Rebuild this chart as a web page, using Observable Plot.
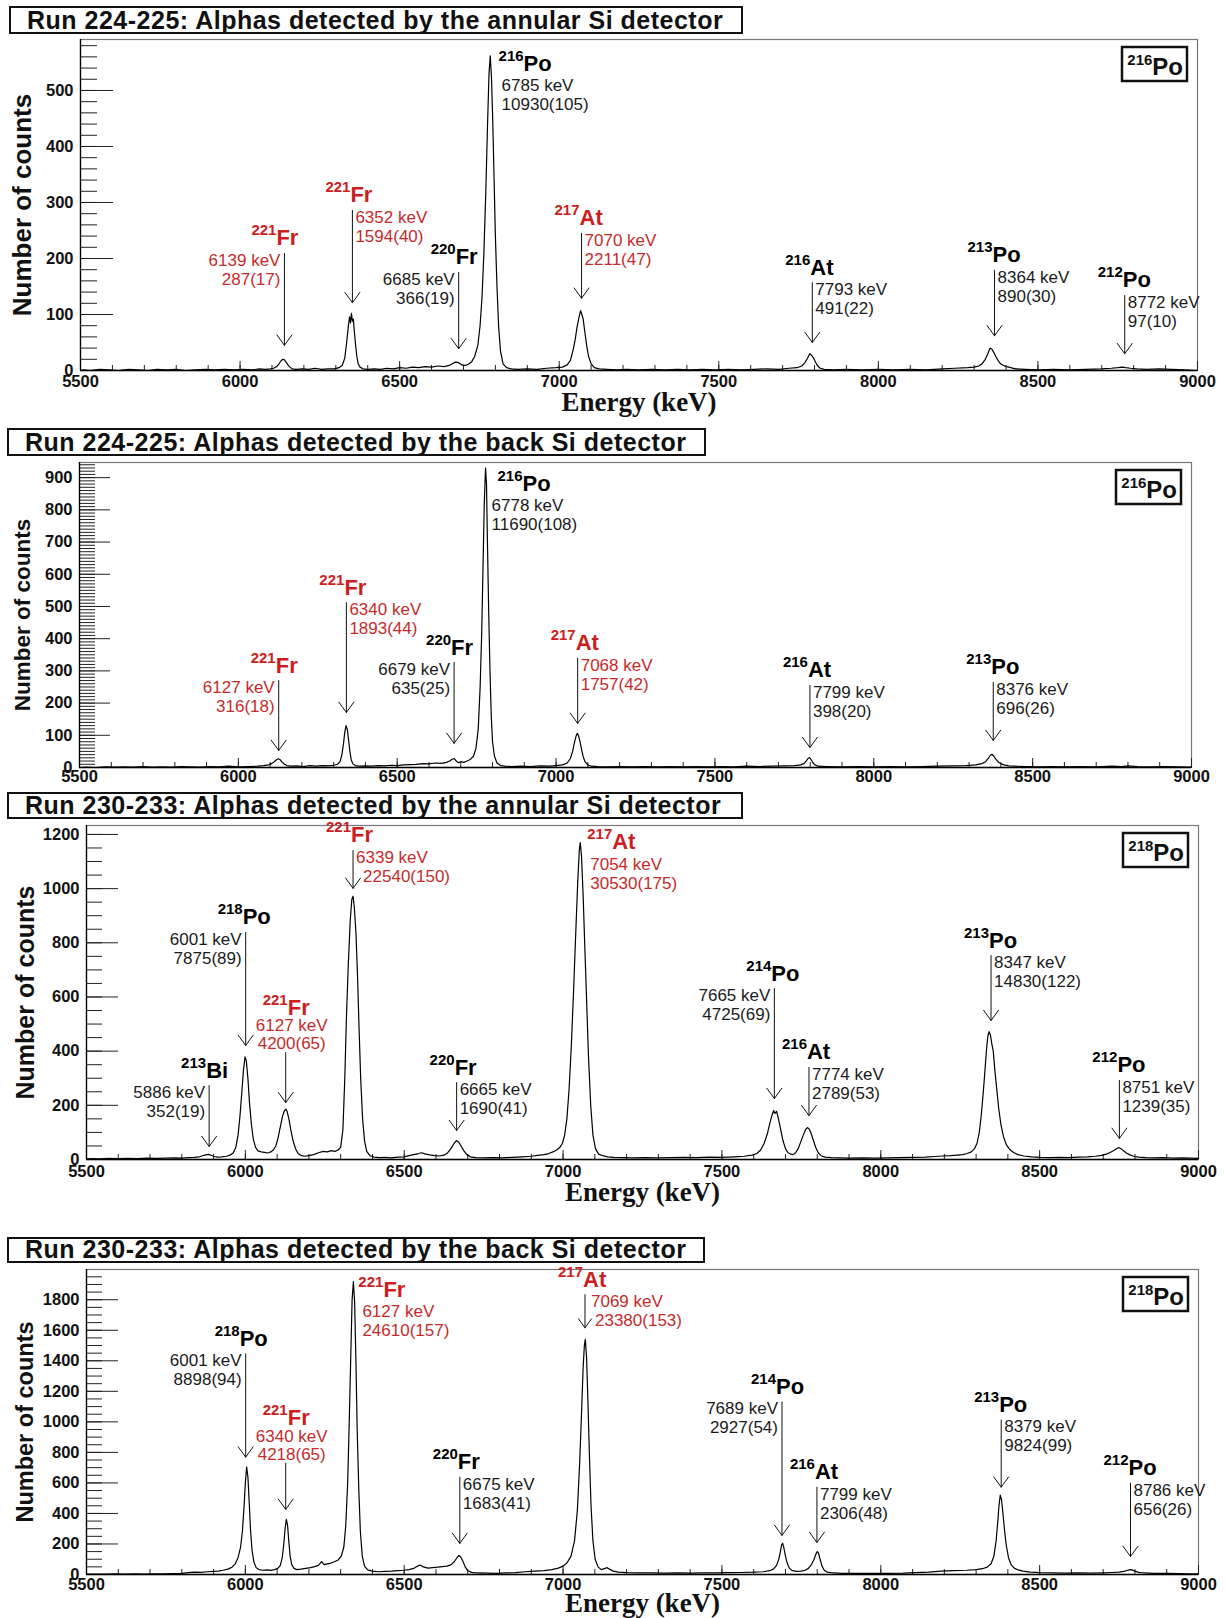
<!DOCTYPE html>
<html>
<head>
<meta charset="utf-8">
<script src="https://cdn.jsdelivr.net/npm/d3@7"></script>
<script src="https://cdn.jsdelivr.net/npm/@observablehq/plot@0.6"></script>
<style>
  body { margin: 0; background: #fff; }
  #page { position: relative; width: 1225px; height: 1618px; overflow: hidden; }
  #page svg { position: absolute; left: 0; }
</style>
</head>
<body>
<div id="page"></div>
<script>
// ---------- Spectra: [energy (keV), counts] ----------
const spectrumAnnular224 = [
  [5500,0],[5510,1],[5530,0],[5560,2],[5590,1],[5620,0],[5650,2],[5680,1],[5710,0],[5740,2],[5770,1],[5800,2],[5830,0],[5860,1],[5890,2],[5920,1],[5950,2],[5980,1],[6010,2],[6040,1],[6060,3],[6080,2],[6095,3],[6105,4],[6115,7],[6122,12],[6128,17],[6134,20],[6139,19],[6144,15],[6150,10],[6156,6],[6163,3],[6175,2],[6195,3],[6215,2],[6235,4],[6255,2],[6275,3],[6295,3],[6310,5],[6320,9],[6328,22],[6334,50],[6339,78],[6343,96],[6346,85],[6349,102],[6352,88],[6355,92],[6358,70],[6362,45],[6366,25],[6370,12],[6376,6],[6385,3],[6400,2],[6420,3],[6440,2],[6460,4],[6480,3],[6500,5],[6520,4],[6540,6],[6560,5],[6580,7],[6600,6],[6620,8],[6640,7],[6655,9],[6665,12],[6675,15],[6685,14],[6695,10],[6705,9],[6715,11],[6725,15],[6735,25],[6745,45],[6752,80],[6758,130],[6764,210],[6770,320],[6775,430],[6780,530],[6784,562],[6788,520],[6792,440],[6796,340],[6800,240],[6805,150],[6810,80],[6816,35],[6824,12],[6835,5],[6850,3],[6870,2],[6900,3],[6930,2],[6960,4],[6990,5],[7010,6],[7025,10],[7035,18],[7043,35],[7050,55],[7056,78],[7062,95],[7067,107],[7071,100],[7075,92],[7080,70],[7086,45],[7092,25],[7100,12],[7110,5],[7125,3],[7150,2],[7180,1],[7210,2],[7250,1],[7290,2],[7330,1],[7370,2],[7410,1],[7450,2],[7490,1],[7530,2],[7570,1],[7610,2],[7650,3],[7690,2],[7720,4],[7745,5],[7760,8],[7770,14],[7778,22],[7785,30],[7791,27],[7797,22],[7803,15],[7810,8],[7818,4],[7830,2],[7860,1],[7900,2],[7950,1],[8000,2],[8050,1],[8100,2],[8150,1],[8200,3],[8240,4],[8280,5],[8300,6],[8315,8],[8325,12],[8335,20],[8343,30],[8350,40],[8356,38],[8362,32],[8368,25],[8375,18],[8383,12],[8392,9],[8402,7],[8415,5],[8430,3],[8460,2],[8500,1],[8550,2],[8600,1],[8650,2],[8700,3],[8730,4],[8750,5],[8765,6],[8775,5],[8790,4],[8810,3],[8840,2],[8880,3],[8920,2],[8960,1],[9000,0]
];

const spectrumBack224 = [
  [5500,0],[5520,1],[5550,0],[5580,2],[5610,1],[5640,2],[5670,1],[5700,3],[5730,1],[5760,2],[5790,1],[5820,3],[5850,2],[5880,1],[5910,3],[5940,2],[5970,4],[6000,2],[6030,3],[6060,4],[6080,6],[6095,8],[6105,12],[6113,18],[6120,24],[6126,27],[6132,24],[6138,16],[6145,10],[6153,6],[6165,4],[6185,5],[6205,3],[6225,6],[6245,4],[6265,6],[6285,5],[6300,7],[6312,10],[6320,18],[6326,40],[6331,75],[6335,110],[6339,130],[6343,118],[6347,85],[6351,50],[6355,25],[6360,12],[6368,6],[6380,4],[6400,5],[6420,4],[6440,6],[6460,5],[6480,7],[6500,6],[6520,8],[6540,9],[6560,10],[6580,12],[6600,11],[6620,14],[6640,13],[6655,16],[6665,20],[6672,25],[6679,28],[6686,20],[6693,15],[6700,18],[6710,16],[6720,20],[6730,25],[6740,35],[6748,60],[6755,120],[6761,250],[6766,420],[6770,620],[6774,820],[6778,930],[6781,880],[6784,700],[6788,480],[6792,300],[6796,160],[6800,80],[6806,35],[6814,14],[6825,6],[6840,4],[6860,3],[6890,4],[6920,3],[6950,5],[6980,4],[7000,6],[7020,8],[7035,14],[7045,28],[7052,50],[7058,78],[7063,98],[7067,106],[7071,98],[7075,82],[7080,58],[7085,35],[7091,18],[7100,8],[7112,4],[7130,3],[7160,2],[7200,3],[7240,2],[7280,3],[7320,2],[7360,3],[7400,2],[7440,3],[7480,2],[7520,3],[7560,2],[7600,4],[7640,3],[7680,4],[7720,5],[7750,6],[7770,8],[7780,12],[7787,20],[7793,28],[7798,31],[7803,24],[7809,14],[7815,8],[7825,4],[7850,3],[7900,2],[7950,3],[8000,2],[8050,3],[8100,2],[8150,3],[8200,4],[8250,5],[8290,6],[8320,8],[8340,12],[8352,18],[8360,28],[8367,38],[8372,41],[8378,35],[8384,26],[8391,18],[8399,12],[8410,8],[8425,5],[8445,4],[8480,3],[8520,2],[8560,3],[8600,2],[8650,3],[8700,2],[8750,4],[8780,3],[8800,5],[8830,3],[8870,2],[8920,3],[8960,2],[9000,1]
];

const spectrumAnnular230 = [
  [5500,2],[5520,3],[5540,2],[5570,4],[5600,3],[5630,4],[5660,3],[5690,5],[5720,4],[5750,5],[5780,6],[5800,5],[5820,7],[5840,8],[5855,10],[5865,14],[5875,17],[5884,19],[5893,15],[5902,11],[5912,9],[5925,10],[5940,12],[5952,16],[5962,25],[5970,45],[5977,90],[5983,160],[5989,250],[5994,330],[5999,379],[6003,365],[6008,300],[6013,210],[6019,130],[6025,75],[6032,45],[6040,32],[6050,28],[6060,26],[6070,24],[6080,28],[6088,35],[6096,50],[6103,80],[6110,120],[6117,160],[6123,180],[6128,186],[6132,175],[6137,150],[6143,110],[6150,70],[6158,40],[6166,22],[6175,15],[6185,12],[6200,14],[6215,18],[6230,25],[6245,30],[6258,28],[6270,33],[6282,30],[6292,35],[6300,45],[6307,110],[6313,300],[6318,520],[6324,720],[6330,880],[6335,960],[6339,972],[6343,930],[6348,840],[6353,680],[6358,480],[6363,300],[6369,150],[6375,70],[6382,30],[6392,14],[6405,9],[6420,7],[6440,8],[6460,6],[6480,9],[6500,10],[6515,14],[6530,18],[6545,22],[6555,25],[6565,21],[6580,17],[6595,14],[6610,13],[6625,16],[6637,25],[6647,40],[6656,58],[6664,70],[6671,65],[6679,50],[6688,32],[6697,18],[6708,10],[6725,7],[6750,6],[6780,7],[6810,6],[6840,8],[6870,10],[6900,12],[6920,15],[6940,18],[6955,22],[6968,28],[6980,35],[6990,45],[6998,60],[7005,90],[7012,150],[7019,260],[7026,420],[7033,620],[7040,840],[7046,1020],[7051,1140],[7054,1170],[7058,1120],[7063,980],[7068,800],[7074,590],[7080,380],[7087,200],[7094,90],[7102,40],[7112,20],[7125,14],[7140,10],[7160,8],[7190,7],[7220,6],[7260,7],[7300,6],[7340,7],[7380,8],[7420,7],[7460,9],[7500,8],[7540,10],[7570,12],[7595,16],[7610,22],[7622,35],[7633,60],[7643,95],[7651,135],[7658,165],[7663,181],[7667,170],[7672,178],[7678,150],[7685,110],[7692,70],[7700,40],[7708,25],[7716,20],[7724,18],[7732,25],[7740,40],[7748,65],[7756,90],[7763,110],[7769,118],[7775,112],[7781,95],[7788,70],[7795,45],[7803,25],[7812,14],[7825,9],[7845,7],[7870,6],[7900,5],[7940,6],[7980,5],[8020,6],[8060,7],[8100,8],[8140,9],[8170,11],[8195,13],[8220,14],[8240,16],[8258,18],[8272,22],[8285,28],[8295,40],[8303,60],[8310,100],[8316,160],[8322,240],[8328,330],[8333,410],[8337,455],[8341,472],[8345,460],[8349,430],[8354,400],[8359,330],[8365,260],[8371,190],[8378,130],[8386,85],[8395,55],[8405,38],[8418,26],[8432,18],[8450,13],[8475,10],[8500,8],[8530,7],[8560,8],[8590,7],[8620,9],[8650,10],[8675,12],[8695,15],[8710,20],[8722,26],[8733,33],[8742,40],[8749,44],[8756,40],[8764,32],[8773,24],[8784,17],[8796,12],[8812,9],[8835,7],[8860,6],[8890,7],[8920,5],[8950,6],[8975,5],[9000,4]
];

const spectrumBack230 = [
  [5500,2],[5530,3],[5560,2],[5590,4],[5620,3],[5650,4],[5680,3],[5710,5],[5740,4],[5770,6],[5800,8],[5820,12],[5840,15],[5860,14],[5880,18],[5900,20],[5915,22],[5930,28],[5945,35],[5958,48],[5968,70],[5977,110],[5985,180],[5991,290],[5996,450],[6000,600],[6004,703],[6008,640],[6012,480],[6016,300],[6021,160],[6027,80],[6034,45],[6043,32],[6055,28],[6068,30],[6080,27],[6092,32],[6102,40],[6110,60],[6116,110],[6121,200],[6125,300],[6129,361],[6133,320],[6137,210],[6141,120],[6146,65],[6153,40],[6162,32],[6175,35],[6190,40],[6205,45],[6218,52],[6230,60],[6240,85],[6248,65],[6258,70],[6270,75],[6282,85],[6292,95],[6302,120],[6310,180],[6316,320],[6322,600],[6327,1000],[6332,1450],[6336,1800],[6340,1918],[6344,1780],[6348,1400],[6352,950],[6357,560],[6362,280],[6368,120],[6375,55],[6385,30],[6400,22],[6420,18],[6440,20],[6460,22],[6480,25],[6500,28],[6515,32],[6530,40],[6542,55],[6550,62],[6560,50],[6575,42],[6590,45],[6605,48],[6620,52],[6635,55],[6648,65],[6658,85],[6666,110],[6672,125],[6678,115],[6685,85],[6692,50],[6700,25],[6712,14],[6730,10],[6760,9],[6790,8],[6820,10],[6850,12],[6880,18],[6910,22],[6940,26],[6965,32],[6985,42],[7000,55],[7012,75],[7025,120],[7036,220],[7045,420],[7052,720],[7058,1050],[7063,1350],[7067,1500],[7070,1540],[7074,1420],[7078,1150],[7083,780],[7088,450],[7094,220],[7101,100],[7110,50],[7120,32],[7130,38],[7138,45],[7146,35],[7158,22],[7175,15],[7200,12],[7240,10],[7280,11],[7320,9],[7360,10],[7400,9],[7440,11],[7480,10],[7520,12],[7560,13],[7600,15],[7630,18],[7650,25],[7662,35],[7672,60],[7679,100],[7684,150],[7688,195],[7691,205],[7695,175],[7700,120],[7706,70],[7713,40],[7722,25],[7735,20],[7750,22],[7762,28],[7772,40],[7782,65],[7790,100],[7796,135],[7800,150],[7804,140],[7809,100],[7815,55],[7822,28],[7832,15],[7850,10],[7880,8],[7910,7],[7950,8],[7990,7],[8030,8],[8070,9],[8110,12],[8150,16],[8190,22],[8230,25],[8270,28],[8300,32],[8320,38],[8335,48],[8347,70],[8356,120],[8363,220],[8368,340],[8372,450],[8376,520],[8380,490],[8384,410],[8389,300],[8395,190],[8402,110],[8410,65],[8420,42],[8432,30],[8448,22],[8470,16],[8500,12],[8540,10],[8580,9],[8620,10],[8660,9],[8700,11],[8730,13],[8750,15],[8765,20],[8775,26],[8782,30],[8788,32],[8794,27],[8802,20],[8812,14],[8830,10],[8860,8],[8900,7],[8940,6],[8970,5],[9000,4]
];

// ---------- Peak labels ----------
// mass/el: isotope; kev/n: fitted energy and peak area; e: energy the arrow points at;
// top/tip: arrow start and end in counts; side: where the text sits relative to the arrow
const labelsAnnular224 = [
  {mass: "221", el: "Fr", kev: "6139 keV", n: "287(17)",    e: 6139, red: true,  side: "left",  top: 209, tip: 45, jx: -8},
  {mass: "221", el: "Fr", kev: "6352 keV", n: "1594(40)",   e: 6352, red: true,  side: "right", top: 286, tip: 121},
  {mass: "220", el: "Fr", kev: "6685 keV", n: "366(19)",    e: 6685, red: false, side: "left",  top: 175, tip: 39},
  {mass: "216", el: "Po", kev: "6785 keV", n: "10930(105)", e: 6785, red: false, side: "peak",  top: 521, dx: 11, jx: 33},
  {mass: "217", el: "At", kev: "7070 keV", n: "2211(47)",   e: 7070, red: true,  side: "right", top: 245, tip: 129},
  {mass: "216", el: "At", kev: "7793 keV", n: "491(22)",    e: 7793, red: false, side: "right", top: 157, tip: 50},
  {mass: "213", el: "Po", kev: "8364 keV", n: "890(30)",    e: 8364, red: false, side: "right", top: 179, tip: 62},
  {mass: "212", el: "Po", kev: "8772 keV", n: "97(10)",     e: 8772, red: false, side: "right", top: 134, tip: 30}
];

const labelsBack224 = [
  {mass: "221", el: "Fr", kev: "6127 keV", n: "316(18)",    e: 6127, red: true,  side: "left",  top: 270, tip: 53},
  {mass: "221", el: "Fr", kev: "6340 keV", n: "1893(44)",   e: 6340, red: true,  side: "right", top: 512, tip: 171},
  {mass: "220", el: "Fr", kev: "6679 keV", n: "635(25)",    e: 6679, red: false, side: "left",  top: 326, tip: 75},
  {mass: "216", el: "Po", kev: "6778 keV", n: "11690(108)", e: 6778, red: false, side: "peak",  top: 835, dx: 6, jx: 37},
  {mass: "217", el: "At", kev: "7068 keV", n: "1757(42)",   e: 7068, red: true,  side: "right", top: 339, tip: 137},
  {mass: "216", el: "At", kev: "7799 keV", n: "398(20)",    e: 7799, red: false, side: "right", top: 255, tip: 62},
  {mass: "213", el: "Po", kev: "8376 keV", n: "696(26)",    e: 8376, red: false, side: "right", top: 264, tip: 84}
];

const labelsAnnular230 = [
  {mass: "213", el: "Bi", kev: "5886 keV", n: "352(19)",    e: 5886, red: false, side: "left",   top: 273, tip: 48},
  {mass: "218", el: "Po", kev: "6001 keV", n: "7875(89)",   e: 6001, red: false, side: "left",   top: 838, tip: 421},
  {mass: "221", el: "Fr", kev: "6127 keV", n: "4200(65)",   e: 6127, red: true,  side: "center", top: 395, tip: 210},
  {mass: "221", el: "Fr", kev: "6339 keV", n: "22540(150)", e: 6339, red: true,  side: "right",  top: 1141, tip: 1001, dx2: 10},
  {mass: "220", el: "Fr", kev: "6665 keV", n: "1690(41)",   e: 6665, red: false, side: "right",  top: 284, tip: 107},
  {mass: "217", el: "At", kev: "7054 keV", n: "30530(175)", e: 7054, red: true,  side: "peak",   top: 1115, dx: 10, jx: 32},
  {mass: "214", el: "Po", kev: "7665 keV", n: "4725(69)",   e: 7665, red: false, side: "left",   top: 631, tip: 225},
  {mass: "216", el: "At", kev: "7774 keV", n: "2789(53)",   e: 7774, red: false, side: "right",  top: 340, tip: 162},
  {mass: "213", el: "Po", kev: "8347 keV", n: "14830(122)", e: 8347, red: false, side: "right",  top: 753, tip: 513},
  {mass: "212", el: "Po", kev: "8751 keV", n: "1239(35)",   e: 8751, red: false, side: "right",  top: 292, tip: 78}
];

const labelsBack230 = [
  {mass: "218", el: "Po", kev: "6001 keV", n: "8898(94)",   e: 6001, red: false, side: "left",   top: 1445, tip: 769, jx: -6},
  {mass: "221", el: "Fr", kev: "6340 keV", n: "4218(65)",   e: 6127, red: true,  side: "center", top: 729, tip: 427},
  {mass: "221", el: "Fr", kev: "6127 keV", n: "24610(157)", e: 6340, red: true,  side: "peak",   top: 1767, dx: 9, jx: 30},
  {mass: "220", el: "Fr", kev: "6675 keV", n: "1683(41)",   e: 6675, red: false, side: "right",  top: 637, tip: 204},
  {mass: "217", el: "At", kev: "7069 keV", n: "23380(153)", e: 7069, red: true,  side: "right",  top: 1833, tip: 1616, dx1: 6, dx2: 10},
  {mass: "214", el: "Po", kev: "7689 keV", n: "2927(54)",   e: 7689, red: false, side: "left",   top: 1130, tip: 256, jx: -6},
  {mass: "216", el: "At", kev: "7799 keV", n: "2306(48)",   e: 7799, red: false, side: "right",  top: 572, tip: 210},
  {mass: "213", el: "Po", kev: "8379 keV", n: "9824(99)",   e: 8379, red: false, side: "right",  top: 1012, tip: 572},
  {mass: "212", el: "Po", kev: "8786 keV", n: "656(26)",    e: 8786, red: false, side: "right",  top: 598, tip: 118}
];

const panelTitles = [
  "Run 224-225: Alphas detected by the annular Si detector",
  "Run 224-225: Alphas detected by the back Si detector",
  "Run 230-233: Alphas detected by the annular Si detector",
  "Run 230-233: Alphas detected by the back Si detector"
];
const sourceMass = ["216", "216", "218", "218"];
const energyDomain = [5500, 9000];

// ---------- Layout ----------
const SANS = "'Liberation Sans', Arial, Helvetica, sans-serif";
const SERIF = "'Liberation Serif', 'Times New Roman', serif";
const RED = "#cc1e1e";
const RED_TEXT = "#c62b2b";

const panels = [
  {spectrum: spectrumAnnular224, labels: labelsAnnular224, top: 0,    height: 420,
   margin: [39, 28, 50, 80], yMax: 591,  yMajor: 100, yMinor: 20, tickLen: 33, xPad: 5,
   titleBox: [10, 7, 742, 33], yLabelSize: 26, yLabelX: 22, energyDy: 32},
  {spectrum: spectrumBack224,    labels: labelsBack224,    top: 420,  height: 370,
   margin: [42, 34, 23, 79], yMax: 947,  yMajor: 100, yMinor: 10, tickLen: 31, xPad: 3,
   titleBox: [8, 9, 705, 35], yLabelSize: 22.5, yLabelX: 22, energyDy: null},
  {spectrum: spectrumAnnular230, labels: labelsAnnular230, top: 790,  height: 420,
   margin: [35, 27, 51, 86], yMax: 1233, yMajor: 200, yMinor: 50, tickLen: 32, xPad: 6,
   titleBox: [8, 3, 742, 28], yLabelSize: 25, yLabelX: 25, energyDy: 33},
  {spectrum: spectrumBack230,    labels: labelsBack230,    top: 1230, height: 388,
   margin: [39, 27, 44, 86], yMax: 1998, yMajor: 200, yMinor: 50, tickLen: 32, xPad: 4,
   titleBox: [8, 8, 704, 32], yLabelSize: 23.5, yLabelX: 25, energyDy: 29}
];

function textOffsets(d) {
  switch (d.side) {
    case "left":   return {anchor: "end",    dx: -4,   l1: 7,   l2: 26, jx: d.jx ?? -3, base: -8};
    case "right":  return {anchor: "start",  dx: 3,    l1: 7,   l2: 26, jx: d.jx ?? -2, base: -8};
    case "center": return {anchor: "middle", dx: 6,    l1: -27, l2: -9, jx: d.jx ?? 2,  base: -38};
    default:       return {anchor: "start",  dx: d.dx, l1: 7,   l2: 26, jx: d.jx,       base: -8};
  }
}

function labelMarks(labels) {
  return labels.flatMap((d) => {
    const g = textOffsets(d);
    const isoFill = d.red ? RED : "#000";
    const txtFill = d.red ? RED_TEXT : "#1b1b1b";
    const marks = [
      Plot.text([d], {x: "e", y: "top", text: "mass", textAnchor: "end", lineAnchor: "bottom",
        dx: g.jx, dy: g.base - 10, fontSize: 15, fontWeight: "bold", fill: isoFill}),
      Plot.text([d], {x: "e", y: "top", text: "el", textAnchor: "start", lineAnchor: "bottom",
        dx: g.jx, dy: g.base, fontSize: 22, fontWeight: "bold", fill: isoFill}),
      Plot.text([d], {x: "e", y: "top", text: "kev", textAnchor: g.anchor, lineAnchor: "middle",
        dx: d.dx1 ?? g.dx, dy: g.l1, fontSize: 17, fill: txtFill}),
      Plot.text([d], {x: "e", y: "top", text: "n", textAnchor: g.anchor, lineAnchor: "middle",
        dx: d.dx2 ?? g.dx, dy: g.l2, fontSize: 17, fill: txtFill})
    ];
    if (d.side !== "peak") {
      marks.push(Plot.arrow([d], {x: "e", y1: "top", y2: "tip", stroke: "#111", strokeWidth: 1,
        headLength: 19, headAngle: 72}));
    }
    return marks;
  });
}

const page = document.getElementById("page");

panels.forEach((p, i) => {
  const [mt, mr, mb, ml] = p.margin;
  const yMajorTicks = d3.range(0, p.yMax + 1, p.yMajor);
  const yMinorTicks = d3.range(0, p.yMax, p.yMinor);
  const xMajorTicks = d3.range(energyDomain[0], energyDomain[1] + 1, 500);
  const xMinorTicks = d3.range(energyDomain[0], energyDomain[1] + 1, 100);

  const marks = [
    Plot.frame({stroke: "#777", strokeWidth: 1.2}),
    // inward tick marks
    Plot.axisY({ticks: yMinorTicks, tickSize: -Math.round(p.tickLen / 2), tickFormat: () => "", label: null, stroke: "#222"}),
    Plot.axisY({ticks: yMajorTicks, tickSize: -p.tickLen, tickFormat: () => "", label: null, stroke: "#222"}),
    Plot.axisY({ticks: yMajorTicks, tickSize: 0, tickPadding: 7, tickFormat: d3.format("d"), label: null,
      fontSize: 16.5, fontWeight: "bold", fill: "#111"}),
    Plot.axisX({ticks: xMinorTicks, tickSize: -5, tickFormat: () => "", label: null, stroke: "#222"}),
    Plot.axisX({ticks: xMajorTicks, tickSize: -9, tickFormat: () => "", label: null, stroke: "#222"}),
    Plot.axisX({ticks: xMajorTicks, tickSize: 0, tickPadding: p.xPad, tickFormat: d3.format("d"), label: null,
      fontSize: 16.5, fontWeight: "bold", fill: "#111"}),
    Plot.ruleX([energyDomain[0]], {stroke: "#000", strokeWidth: 1.3}),
    Plot.ruleY([0], {stroke: "#000", strokeWidth: 1.3}),
    Plot.line(p.spectrum, {x: (d) => d[0], y: (d) => d[1], stroke: "#000", strokeWidth: 1.2}),
    ...labelMarks(p.labels),
    Plot.text(["Number of counts"], {frameAnchor: "left", textAnchor: "middle", lineAnchor: "middle",
      rotate: -90, dx: p.yLabelX - ml, fontSize: p.yLabelSize, fontWeight: "bold", fill: "#111"})
  ];
  if (p.energyDy != null) {
    marks.push(Plot.text(["Energy (keV)"], {frameAnchor: "bottom", textAnchor: "middle", lineAnchor: "middle",
      dy: p.energyDy, fontSize: 27, fontWeight: "bold", fontFamily: SERIF, fill: "#111"}));
  }

  const svg = Plot.plot({
    width: 1225,
    height: p.height,
    marginTop: mt, marginRight: mr, marginBottom: mb, marginLeft: ml,
    x: {domain: energyDomain},
    y: {domain: [0, p.yMax]},
    style: {fontFamily: SANS, background: "transparent", overflow: "visible"},
    marks
  });
  svg.style.top = p.top + "px";
  page.appendChild(svg);

  const s = d3.select(svg);
  // run title box
  const [bx0, by0, bx1, by1] = p.titleBox;
  s.append("rect").attr("x", bx0).attr("y", by0).attr("width", bx1 - bx0).attr("height", by1 - by0)
    .attr("fill", "#fff").attr("stroke", "#111").attr("stroke-width", 2);
  s.append("text").attr("x", bx0 + 17).attr("y", by1 - 4).attr("text-anchor", "start")
    .attr("font-family", SANS).attr("font-size", 25).attr("font-weight", "bold")
    .attr("letter-spacing", "0.5px").attr("fill", "#111").text(panelTitles[i]);

  // source isotope box in the top-right corner of the frame
  const fx1 = 1225 - mr;
  const lw = 65, lh = 34;
  const lx = fx1 - 10 - lw, ly = mt + 8;
  s.append("rect").attr("x", lx).attr("y", ly).attr("width", lw).attr("height", lh)
    .attr("fill", "#fff").attr("stroke", "#111").attr("stroke-width", 2.5);
  const lt = s.append("text").attr("x", lx + lw - 4).attr("y", ly + lh - 6).attr("text-anchor", "end")
    .attr("font-family", SANS).attr("font-weight", "bold").attr("fill", "#111");
  lt.append("tspan").attr("font-size", 15).attr("dy", -10).text(sourceMass[i]);
  lt.append("tspan").attr("font-size", 24).attr("dy", 10).text("Po");
});
</script>
</body>
</html>
